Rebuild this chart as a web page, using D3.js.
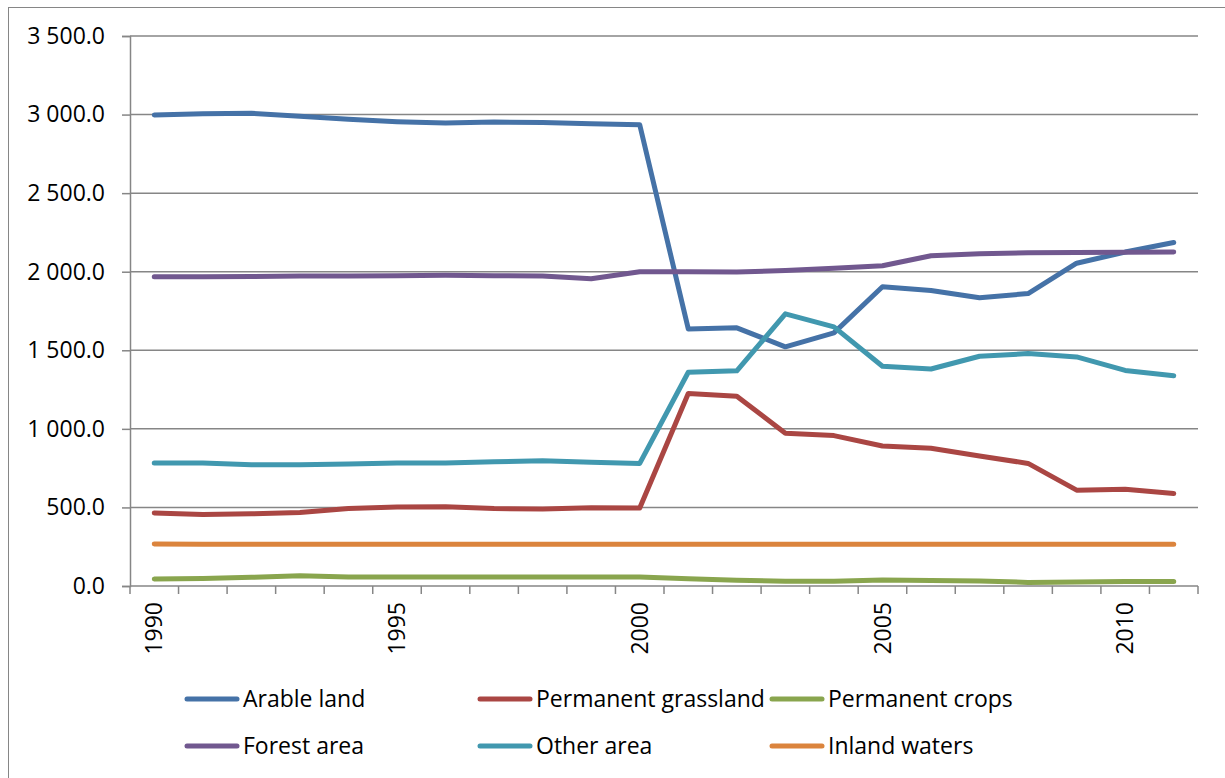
<!DOCTYPE html>
<html>
<head>
<meta charset="utf-8">
<script src="https://cdn.jsdelivr.net/npm/d3@7"></script>
<style>
html,body{margin:0;padding:0;background:#fff;overflow:hidden;}
svg{display:block;}
text{font-family:"Open Sans",sans-serif;fill:#000;}
</style>
</head>
<body>
<svg id="chart" width="1225" height="778"></svg>
<script>
const years = [1990,1991,1992,1993,1994,1995,1996,1997,1998,1999,2000,2001,2002,2003,2004,2005,2006,2007,2008,2009,2010,2011];
const arableLand = [2997,3005,3008,2990,2970,2955,2946,2952,2950,2942,2935,1636,1643,1522,1611,1904,1881,1834,1861,2054,2125,2186];
const permanentGrassland = [465,455,459,468,493,502,505,493,490,498,497,1225,1208,972,957,891,876,827,780,610,616,589];
const permanentCrops = [44,47,55,65,57,57,57,57,57,57,57,46,36,30,30,38,35,32,23,26,28,28];
const forestArea = [1968,1968,1970,1972,1973,1975,1978,1975,1972,1955,2000,2000,1998,2008,2022,2038,2102,2115,2120,2122,2124,2125];
const otherArea = [783,783,772,772,776,783,783,790,797,788,780,1360,1369,1732,1649,1398,1381,1462,1479,1458,1372,1338];
const inlandWaters = [268,266,265,265,265,265,265,265,265,265,265,265,265,265,265,265,265,265,265,265,265,265];
const seriesNames = ["Arable land","Permanent grassland","Permanent crops","Forest area","Other area","Inland waters"];
const seriesColors = ["#4572A7","#AA4643","#89A54E","#71588F","#4198AF","#DB843D"];
const yTicks = [0,500,1000,1500,2000,2500,3000,3500];
const xLabelYears = [1990,1995,2000,2005,2010];

const seriesValues = [arableLand, permanentGrassland, permanentCrops, forestArea, otherArea, inlandWaters];

const svg = d3.select("#chart");
const L = 130, R = 1198, T = 36, B = 586;
const grey = "#868686";
const FS = "23px";

// outer frame
svg.append("rect").attr("x",8.5).attr("y",7.5).attr("width",1300).attr("height",900)
  .attr("fill","none").attr("stroke",grey).attr("stroke-width",1);

const x = d3.scaleBand().domain(years).range([L,R]).paddingInner(0).paddingOuter(0);
const y = d3.scaleLinear().domain([0,3500]).range([B,T]);

const loc = d3.formatLocale({decimal:".",thousands:" ",grouping:[3],currency:["",""]});
const fmt = loc.format(",.1f");

// gridlines
svg.append("g").selectAll("line").data(yTicks.filter(d=>d>0)).join("line")
  .attr("x1",L).attr("x2",R).attr("y1",d=>y(d)).attr("y2",d=>y(d))
  .attr("stroke",grey).attr("stroke-width",1.5);

// y axis
const yAxis = svg.append("g").attr("transform",`translate(${L},0)`)
  .call(d3.axisLeft(y).tickValues(yTicks).tickFormat(fmt).tickSize(8).tickPadding(17));
yAxis.select(".domain").attr("stroke",grey).attr("stroke-width",1.5);
yAxis.selectAll(".tick line").attr("stroke",grey).attr("stroke-width",1.5);
yAxis.selectAll("text").style("font-family","'Open Sans',sans-serif").style("font-size",FS).attr("fill","#000");

// x axis: labels at category centres
const xAxis = svg.append("g").attr("transform",`translate(0,${B})`)
  .call(d3.axisBottom(x).tickValues(xLabelYears).tickSize(0).tickPadding(0));
xAxis.select(".domain").remove();
xAxis.selectAll("text")
  .style("font-family","'Open Sans',sans-serif").style("font-size",FS).attr("fill","#000")
  .attr("transform","rotate(-90)")
  .attr("text-anchor","end")
  .attr("x",-16).attr("y",0).attr("dy","0.35em");

// x axis line and category boundary ticks
svg.append("line").attr("x1",L).attr("x2",R).attr("y1",B).attr("y2",B)
  .attr("stroke",grey).attr("stroke-width",1.5);
const bounds = years.map(d=>x(d)).concat([x(years[years.length-1]) + x.bandwidth()]);
svg.append("g").selectAll("line").data(bounds).join("line")
  .attr("x1",d=>d).attr("x2",d=>d).attr("y1",B).attr("y2",B+8)
  .attr("stroke",grey).attr("stroke-width",1.5);

// lines
const line = d3.line().x((d,i)=>x(years[i]) + x.bandwidth()/2).y(d=>y(d));
svg.append("g").selectAll("path").data(seriesValues).join("path")
  .attr("d",d=>line(d)).attr("fill","none")
  .attr("stroke",(d,i)=>seriesColors[i]).attr("stroke-width",5)
  .attr("stroke-linejoin","round").attr("stroke-linecap","round");

// legend
const legX = [185,478,770], legY = [699,746];
const leg = svg.append("g").selectAll("g").data(seriesNames).join("g")
  .attr("transform",(d,i)=>`translate(${legX[i%3]},${legY[Math.floor(i/3)]})`);
leg.append("line").attr("x1",2).attr("x2",52).attr("y1",0).attr("y2",0)
  .attr("stroke",(d,i)=>seriesColors[i]).attr("stroke-width",5).attr("stroke-linecap","round");
leg.append("text").attr("x",58).attr("y",0).attr("dy","0.35em")
  .style("font-size",FS).text(d=>d);
</script>
</body>
</html>
